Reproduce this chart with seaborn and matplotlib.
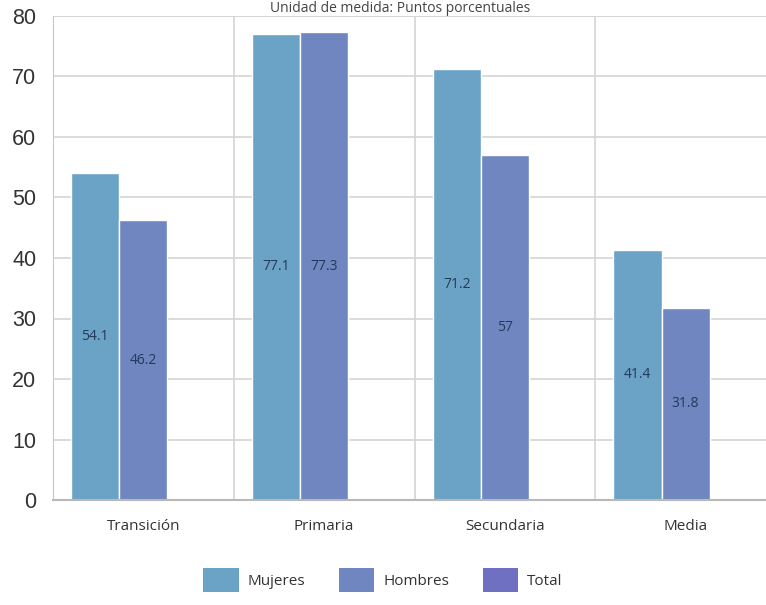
import numpy as np
import pandas as pd
import matplotlib.pyplot as plt
import seaborn as sns

# Data
categorias = ['Transición', 'Primaria', 'Secundaria', 'Media']
mujeres = [54.1, 77.1, 71.2, 41.4]
hombres = [46.2, 77.3, 57.0, 31.8]
total = [np.nan, np.nan, np.nan, np.nan]
etiquetas_mujeres = ['54.1', '77.1', '71.2', '41.4']
etiquetas_hombres = ['46.2', '77.3', '57', '31.8']
series = ['Mujeres', 'Hombres', 'Total']
colores = ['#6aa3c6', '#6f86c1', '#7070c2']

df = pd.DataFrame({
    'categoria': categorias * 3,
    'serie': ['Mujeres'] * 4 + ['Hombres'] * 4 + ['Total'] * 4,
    'valor': mujeres + hombres + total,
})

sns.set_style('white')
plt.rcParams['font.family'] = ['Open Sans', 'DejaVu Sans']

fig = plt.figure(figsize=(7.66, 6.05), dpi=100)
ax = fig.add_axes([53 / 766, 105 / 605, 723 / 766, 484 / 605])

sns.barplot(data=df, x='categoria', y='valor', hue='serie', hue_order=series,
            palette=colores, width=0.8, saturation=1, ax=ax, legend=True)

# labels in the middle of each bar
for cont, labs in zip(ax.containers[:2], [etiquetas_mujeres, etiquetas_hombres]):
    ax.bar_label(cont, labels=labs, label_type='center', fontsize=10,
                 color='#25395a', family='Open Sans')

ax.set_ylim(0, 80)
ax.set_xlim(-0.5, 3.5)
ax.set_yticks(range(0, 81, 10))
ax.set_xlabel('')
ax.set_ylabel('')

# grid: horizontal every 10, vertical between categories
ax.set_xticks([0.5, 1.5, 2.5], minor=True)
ax.grid(axis='y', color='#d4d4d4', linewidth=1.2)
ax.grid(axis='x', which='minor', color='#d4d4d4', linewidth=1.2)
ax.set_axisbelow(True)
for s in ['top', 'right']:
    ax.spines[s].set_visible(False)
ax.spines['left'].set_color('#c8c8c8')
ax.spines['bottom'].set_color('#b8b8b8')
ax.spines['bottom'].set_linewidth(1.5)
ax.axhline(80, color='#d4d4d4', linewidth=1.2, zorder=0)

ax.tick_params(axis='y', length=0, pad=12, labelsize=15.5, labelcolor='#333333')
ax.tick_params(axis='x', which='both', length=0, pad=14, labelsize=11, labelcolor='#333333')
for t in ax.get_yticklabels():
    t.set_family('Liberation Sans')

# legend at the bottom
ax.legend_.remove()
handles = [plt.Rectangle((0, 0), 1, 1, facecolor=c, edgecolor='none') for c in colores]
fig.legend(handles, series, loc='center', bbox_to_anchor=(383 / 766, 25 / 605), ncol=3,
           frameon=False, fontsize=11, handlelength=2.3, handleheight=2.1,
           columnspacing=2.2, handletextpad=0.6, labelcolor='#333333')

# title at the very top edge
fig.text(400 / 766, 1 - 1 / 605, 'Unidad de medida: Puntos porcentuales', ha='center', va='top',
         fontsize=10, color='#444444')

fig.savefig('out.png', dpi=100)
plt.close()
